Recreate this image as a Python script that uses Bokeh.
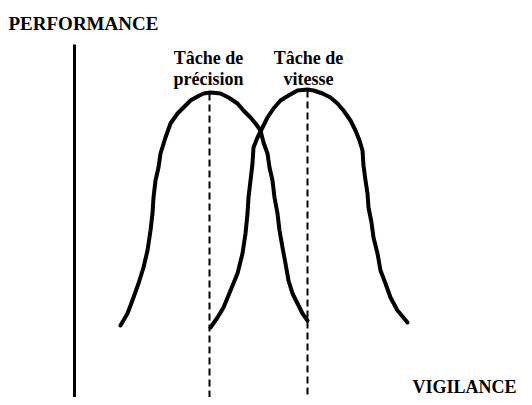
from bokeh.plotting import figure
from bokeh.models import Range1d
from bokeh.core.properties import value
from bokeh.embed import file_html
from bokeh.resources import INLINE

# Curves (x = vigilance, y = position on page, downward)
precision_x = [120, 127, 133, 138, 143, 147, 150, 152, 153, 155, 158, 160, 165, 170, 177, 183, 190, 197, 203, 210,
               220, 228, 237, 243, 250, 255, 260, 263, 267, 269, 272, 274, 277, 279, 282, 285, 288, 292, 297, 302, 307]
precision_y = [325, 313, 297, 283, 267, 250, 230, 213, 197, 180, 167, 153, 137, 123, 113, 107, 100, 96, 93, 92,
               93, 97, 103, 110, 117, 123, 130, 142, 153, 167, 180, 197, 213, 230, 247, 263, 280, 293, 303, 313, 320]
vitesse_x = [210, 217, 223, 230, 237, 242, 245, 247, 248, 250, 252, 253, 257, 262, 267, 273, 280, 288, 297, 307,
             313, 322, 330, 337, 343, 350, 355, 359, 362, 363, 365, 367, 368, 371, 373, 377, 380, 385, 390, 397, 407]
vitesse_y = [327, 317, 307, 290, 273, 253, 233, 213, 197, 180, 163, 147, 137, 127, 117, 108, 100, 95, 90, 89,
             90, 93, 97, 103, 110, 120, 130, 140, 150, 165, 180, 193, 207, 222, 237, 253, 270, 283, 297, 310, 322]

# Optimum markers (peak positions)
peak_x = [209, 307]
peak_top = [93, 90]
labels_line1 = ["Tâche de", "Tâche de"]
labels_line2 = ["précision", "vitesse"]
label_x = [208, 308]

y_title = "PERFORMANCE"
x_title = "VIGILANCE"

FONT = value("Liberation Serif")

p = figure(width=524, height=397, output_backend="svg", toolbar_location=None,
           x_range=Range1d(0, 524), y_range=Range1d(397, 0),
           x_axis_type=None, y_axis_type=None, min_border=0)
p.grid.visible = False
p.outline_line_color = None
p.background_fill_color = "white"
p.border_fill_color = "white"

# vertical performance axis
p.line(x=[74, 74], y=[44, 405], line_color="black", line_width=3)

# dashed optimum lines
for xx, top in zip(peak_x, peak_top):
    p.line(x=[xx, xx], y=[top, 405], line_color="black", line_width=2, line_dash="7 4")

# curves
p.line(x=precision_x, y=precision_y, line_color="black", line_width=4, line_join="round", line_cap="round")
p.line(x=vitesse_x, y=vitesse_y, line_color="black", line_width=4, line_join="round", line_cap="round")

# labels
p.text(x=label_x, y=[57, 57], text=labels_line1, text_font=FONT, text_font_style="bold",
       text_font_size="18px", text_align="center", text_baseline="alphabetic", text_color="black")
p.text(x=label_x, y=[78, 78], text=labels_line2, text_font=FONT, text_font_style="bold",
       text_font_size="18px", text_align="center", text_baseline="alphabetic", text_color="black")

p.text(x=[8], y=[23], text=[y_title], text_font=FONT, text_font_style="bold",
       text_font_size="19px", text_align="left", text_baseline="alphabetic", text_color="black")
p.text(x=[516], y=[386], text=[x_title], text_font=FONT, text_font_style="bold",
       text_font_size="18px", text_align="right", text_baseline="alphabetic", text_color="black")

open("out.html", "w").write(file_html(p, INLINE))
